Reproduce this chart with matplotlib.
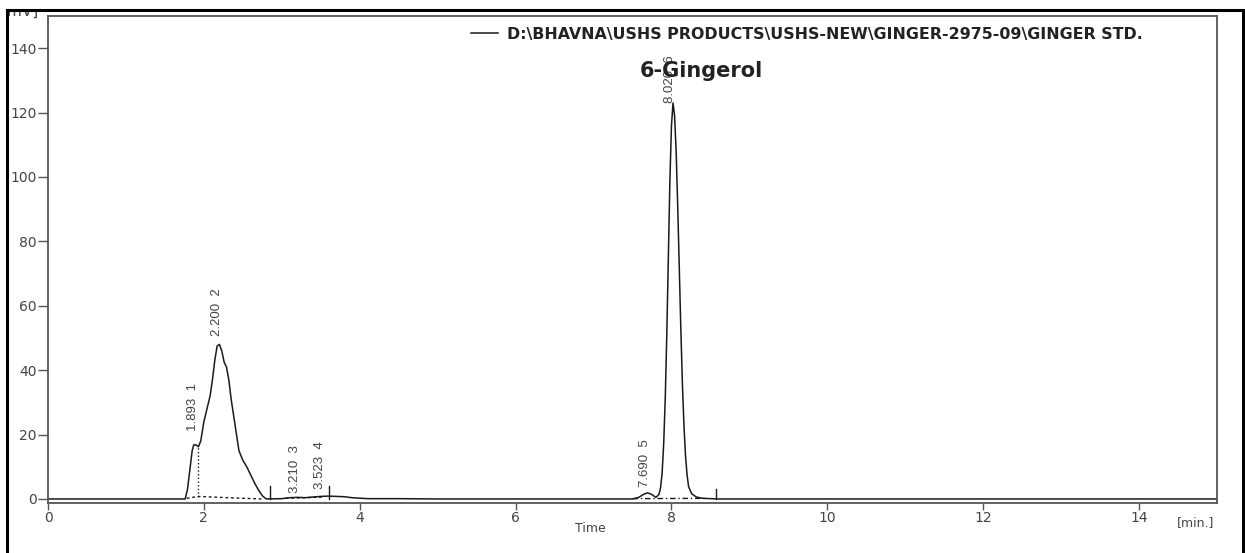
import matplotlib
matplotlib.use("Agg")
import matplotlib.pyplot as plt
from matplotlib.patches import Rectangle
from matplotlib.lines import Line2D

# ---- data ----
time_min = [0.0, 1.76, 1.79, 1.82, 1.85, 1.87, 1.90, 1.93, 1.96, 2.00, 2.04, 2.08,
            2.11, 2.14, 2.17, 2.20, 2.23, 2.26, 2.29, 2.32, 2.35, 2.40, 2.45, 2.50,
            2.55, 2.60, 2.65, 2.70, 2.75, 2.80, 3.00, 3.10, 3.20, 3.30, 3.40, 3.50,
            3.60, 3.70, 3.80, 3.90, 4.10, 4.50, 5.00, 7.50, 7.58, 7.64, 7.69, 7.74,
            7.80, 7.84, 7.86, 7.88, 7.90, 7.92, 7.94, 7.96, 7.98, 8.00, 8.02, 8.04,
            8.06, 8.08, 8.10, 8.12, 8.14, 8.16, 8.18, 8.20, 8.22, 8.26, 8.32, 8.40,
            8.60, 15.0]
signal_mv = [0.0, 0.0, 3.0, 9.0, 15.0, 16.8, 16.8, 16.2, 18.0, 24.0, 28.0, 32.0,
             37.0, 43.0, 47.5, 48.0, 46.0, 42.5, 41.0, 37.0, 31.0, 23.0, 15.0, 12.0,
             10.0, 7.5, 5.0, 2.8, 1.0, 0.0, 0.1, 0.4, 0.5, 0.4, 0.6, 0.8,
             0.9, 0.8, 0.7, 0.4, 0.1, 0.1, 0.0, 0.0, 0.5, 1.4, 1.9, 1.5,
             0.5, 1.4, 3.5, 8.0, 17.0, 31.0, 51.0, 75.0, 99.0, 116.0, 123.0, 119.0,
             108.0, 91.0, 72.0, 53.0, 36.0, 23.0, 13.5, 7.5, 3.8, 1.6, 0.6, 0.2,
             0.0, 0.0]

peak_rt = [1.893, 2.200, 3.210, 3.523, 7.690, 8.020]
peak_num = ["1", "2", "3", "4", "5", "6"]
label_base = [21.0, 50.5, 2.0, 3.0, 3.7, 123.0]

marker_rt = [2.85, 3.60, 8.57]
marker_h = [4.0, 4.0, 3.0]

xticks = [0, 2, 4, 6, 8, 10, 12, 14]
yticks = [0, 20, 40, 60, 80, 100, 120, 140]
legend_label = r"D:\BHAVNA\USHS PRODUCTS\USHS-NEW\GINGER-2975-09\GINGER STD."
compound_name = "6-Gingerol"

# ---- figure ----
W, H = 1245, 553
fig = plt.figure(figsize=(W / 100, H / 100), dpi=100)
ax = fig.add_axes([48 / W, 1 - 503 / H, (1217 - 48) / W, (503 - 16) / H])

line_col = "#1a1a1a"
ax.plot(time_min, signal_mv, color=line_col, lw=1.1, label=legend_label)

# integration baselines / drop lines
ax.plot([1.93, 1.93], [0.5, 16.2], color=line_col, lw=1.0, ls=":")
ax.plot([1.78, 1.93, 2.30, 2.75], [0.2, 0.8, 0.4, 0.0], color=line_col, lw=1.0, ls=(0, (2, 2)))
ax.plot([3.05, 3.55], [0.2, 0.6], color=line_col, lw=1.0, ls=(0, (2, 2)))
ax.plot([7.50, 8.45], [0.1, 0.2], color=line_col, lw=1.0, ls=(0, (4, 2, 1, 2)))

# event markers
for rt, h in zip(marker_rt, marker_h):
    ax.plot([rt, rt], [0, h], color=line_col, lw=1.0)

# peak labels
narrow = ["Liberation Sans Narrow", "Liberation Sans", "DejaVu Sans"]
for rt, num, yb in zip(peak_rt, peak_num, label_base):
    ax.text(rt - 0.035, yb, f"{rt:.3f}  {num}", rotation=90, ha="center", va="bottom",
            fontsize=9.5, color="#444444", family=narrow)

wide = ["DejaVu Sans"]
ax.text(8.38, 133, compound_name, ha="center", va="center", fontsize=15,
        fontweight="bold", color="#222222", family=wide)

ax.set_xlim(0, 15)
ax.set_ylim(-1.25, 150)
ax.set_xticks(xticks)
ax.set_yticks(yticks)
for s in ax.spines.values():
    s.set_color("#555555")
    s.set_linewidth(1.3)
ax.tick_params(axis="y", length=7, width=1.0, color="#555555", labelsize=10,
               labelcolor="#444444", pad=1)
ax.tick_params(axis="x", length=5, width=1.0, color="#555555", labelsize=10,
               labelcolor="#444444", pad=1)
for lab in ax.get_xticklabels() + ax.get_yticklabels():
    lab.set_family(wide)

leg = ax.legend(loc="upper left", bbox_to_anchor=(471 / W, 1 - 27 / H),
                bbox_transform=fig.transFigure, frameon=False, handlelength=1.7,
                handletextpad=0.6, borderaxespad=0, borderpad=0,
                prop={"family": wide, "weight": "bold", "size": 11.4})
for t in leg.get_texts():
    t.set_color("#222222")

fig.text(590 / W, 1 - 529 / H, "Time", ha="center", va="center", fontsize=9,
         color="#444444", family=wide)
fig.text(1214 / W, 1 - 523 / H, "[min.]", ha="right", va="center", fontsize=9,
         color="#444444", family=wide)
fig.text(2 / W, 1 - 15.5 / H, "[mV]", ha="left", va="baseline", fontsize=11,
         color="#444444", family=wide)

# white margin above the outer frame, then the frame itself
fig.patches.append(Rectangle((0, 1 - 9 / H), 1, 9 / H, transform=fig.transFigure,
                             facecolor="white", edgecolor="none", zorder=5))
fig.patches.append(Rectangle((0, 0), 6 / W, 1, transform=fig.transFigure,
                             facecolor="white", edgecolor="none", zorder=5))
fig.add_artist(Line2D([7 / W, 1243 / W], [1 - 10 / H, 1 - 10 / H], transform=fig.transFigure,
                      color="black", lw=2.2, zorder=6))
fig.add_artist(Line2D([7 / W, 7 / W], [0, 1 - 10 / H], transform=fig.transFigure,
                      color="black", lw=2.2, zorder=6))
fig.add_artist(Line2D([1243 / W, 1243 / W], [0, 1 - 10 / H], transform=fig.transFigure,
                      color="black", lw=2.2, zorder=6))

fig.savefig("out.png", dpi=100)
